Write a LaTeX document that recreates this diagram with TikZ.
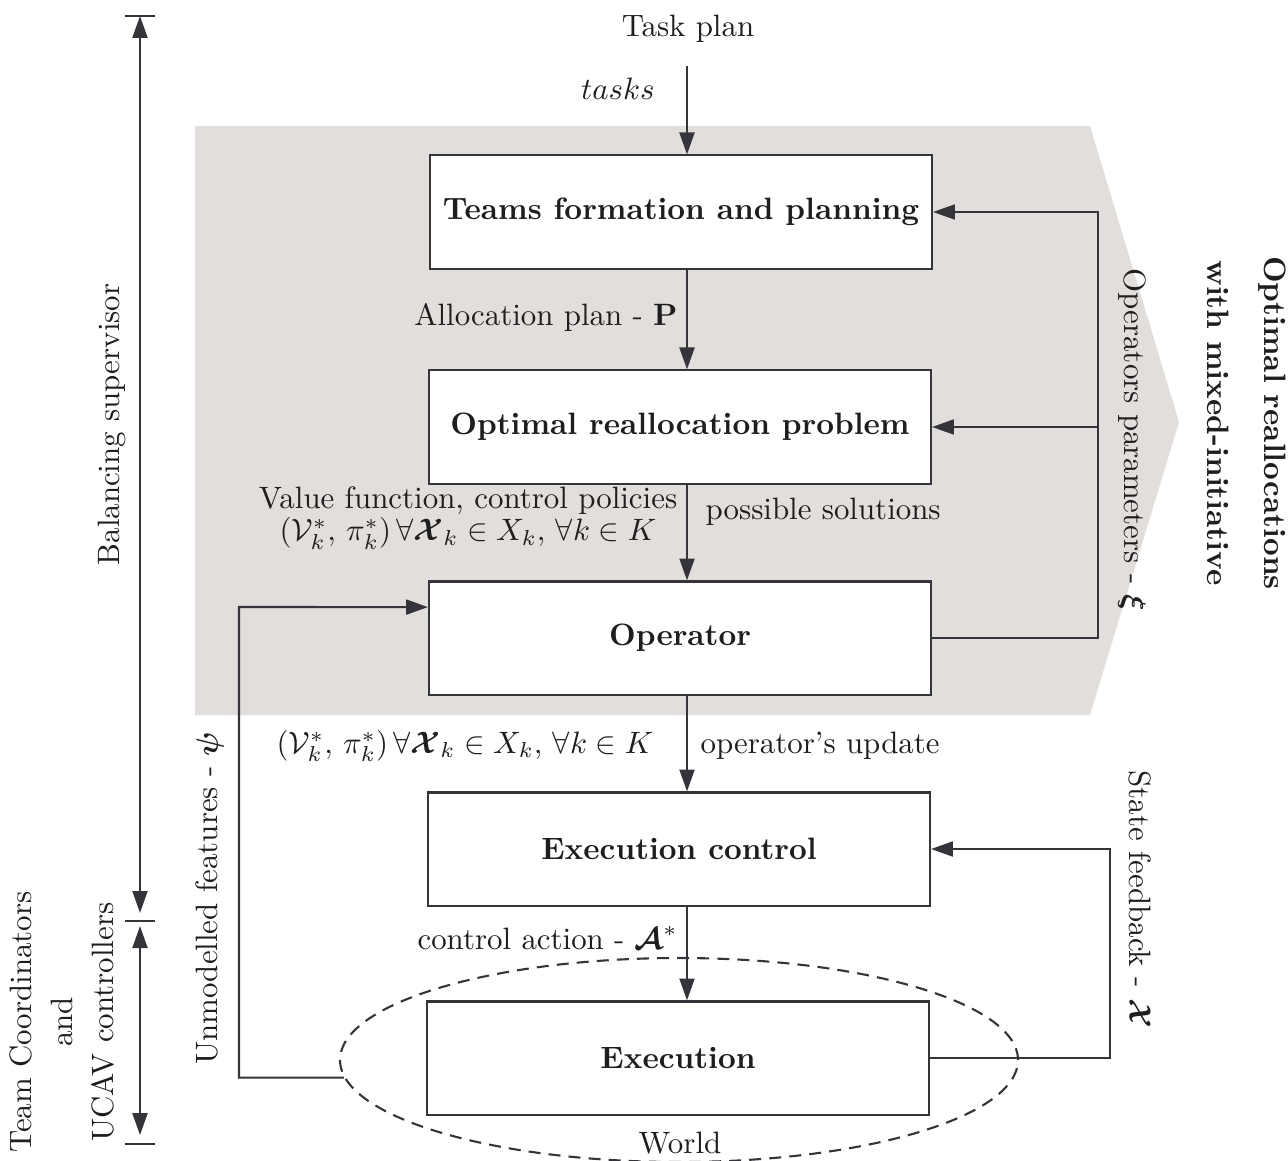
\documentclass[tikz,border=0pt]{standalone}
\usepackage{fix-cm}
\usepackage{amsmath,amssymb,bm}
\usetikzlibrary{arrows.meta,shapes.geometric,calc}
\definecolor{ln}{RGB}{52,52,58}
\definecolor{bg}{RGB}{226,222,219}
\definecolor{tx}{RGB}{30,30,30}
\newcommand{\fs}{\fontsize{10.3}{12.4}\selectfont}
\begin{document}
\begin{tikzpicture}[x=0.3333pt,y=-0.3333pt,
  every node/.style={font=\fs},
  box/.style={draw=ln, line width=0.7pt, fill=white, minimum width=167.3pt, minimum height=37.7pt, font=\fs\bfseries, text=tx, inner sep=0pt},
  arr/.style={draw=ln, line width=0.7pt, -{Triangle[length=7.3pt,width=5pt]}},
  dbl/.style={draw=ln, line width=0.7pt, {Triangle[length=7.3pt,width=5pt]}-{Triangle[length=7.3pt,width=5pt]}},
  wire/.style={draw=ln, line width=0.7pt},
  lab/.style={inner sep=0pt, text=tx},
  blab/.style={inner sep=0pt, text=tx, font=\fs\bfseries}]
\useasboundingbox (0,0) rectangle (1288,1160);
% shaded region
\fill[bg] (195,126) -- (1090,126) -- (1179,422) -- (1090,715) -- (195,715) -- cycle;
% world
\node[ellipse, draw=ln, line width=0.7pt, dash pattern=on 4pt off 2.7pt, minimum width=226pt, minimum height=68pt, inner sep=0pt] (world) at (679,1060) {};
\node[lab] (worldl) at (680,1143) {World};
% boxes
\node[box] (b1) at (681,212) {Teams formation and planning};
\node[box] (b2) at (680,427) {Optimal reallocation problem};
\node[box] (b3) at (680,638) {Operator};
\node[box] (b4) at (679,849) {Execution control};
\node[box] (b5) at (678,1058) {Execution};
% helper coordinates
\coordinate (ax) at (687,0);
\coordinate (tp) at (687,66);
\coordinate (fb) at (1098,0);
\coordinate (sf) at (1110,0);
\coordinate (uf) at (239,607);
% main vertical flow
\node[lab] (taskplan) at (688,29) {Task plan};
\node[lab] (tasks) at (618,89) {$tasks$};
\draw[arr] (tp) -- (b1.north -| ax);
\draw[arr] (b1.south -| ax) -- (b2.north -| ax);
\draw[arr] (b2.south -| ax) -- (b3.north -| ax);
\draw[arr] (b3.south -| ax) -- (b4.north -| ax);
\draw[arr] (b4.south -| ax) -- (b5.north -| ax);
% labels on flow
\node[lab, anchor=east] (alloc) at (678,317) {Allocation plan - $\mathbf{P}$};
\node[lab, align=center] (vf) at (468,518) {Value function, control policies\\[-1.5pt]
  $(\mathcal{V}_k^*,\, \pi_k^*)\,\forall\bm{\mathcal{X}}_k\in X_k,\,\forall k\in K$};
\node[lab, anchor=west] (poss) at (705,512) {possible solutions};
\node[lab] (vf2) at (465,746) {$(\mathcal{V}_k^*,\, \pi_k^*)\,\forall\bm{\mathcal{X}}_k\in X_k,\,\forall k\in K$};
\node[lab, anchor=west] (upd) at (700,746) {operator's update};
\node[lab, anchor=east] (ctrl) at (678,938) {control action - $\bm{\mathcal{A}}^{*}$};
% operator feedback
\draw[arr] (b3.east) -- (b3.east -| fb) |- (b1.east);
\draw[arr] (b2.east -| fb) -- (b2.east);
\node[lab, rotate=-90, anchor=west] (opp) at (1132,268) {Operators parameters - $\bm{\xi}$};
% state feedback
\draw[arr] (b5.east) -- (b5.east -| sf) |- (b4.east);
\node[lab, rotate=-90, anchor=west] (stf) at (1140,770) {State feedback - $\bm{\mathcal{X}}$};
% unmodelled features
\draw[arr] (world.183) -| (uf) -- ([yshift=10.3pt]b3.west);
\node[lab, rotate=90] (unm) at (210,898) {Unmodelled features - $\bm{\psi}$};
% right title
\node[blab, rotate=-90] (t1) at (1272,423) {Optimal reallocations};
\node[blab, rotate=-90] (t2) at (1218,423) {with mixed-initiative};
% left hierarchy
\coordinate (hT) at (140,16);
\coordinate (hM) at (140,921);
\coordinate (hB) at (140,1144);
\draw[dbl, shorten >=2.7pt] (hT) -- (hM);
\draw[dbl, shorten <=1.7pt, shorten >=3pt] (hM) -- (hB);
\draw[wire] ([xshift=-5pt]hT) -- ([xshift=5pt]hT);
\draw[wire] ([xshift=-5pt]hM) -- ([xshift=5pt]hM);
\draw[wire] ([xshift=-5pt]hB) -- ([xshift=5pt]hB);
\node[lab, rotate=90, anchor=east] (bal) at (112,283) {Balancing supervisor};
\node[lab, rotate=90, align=center] (team) at (62,1022) {Team Coordinators\\[1.3pt] and\\[1.3pt] UCAV controllers};
\end{tikzpicture}
\end{document}
